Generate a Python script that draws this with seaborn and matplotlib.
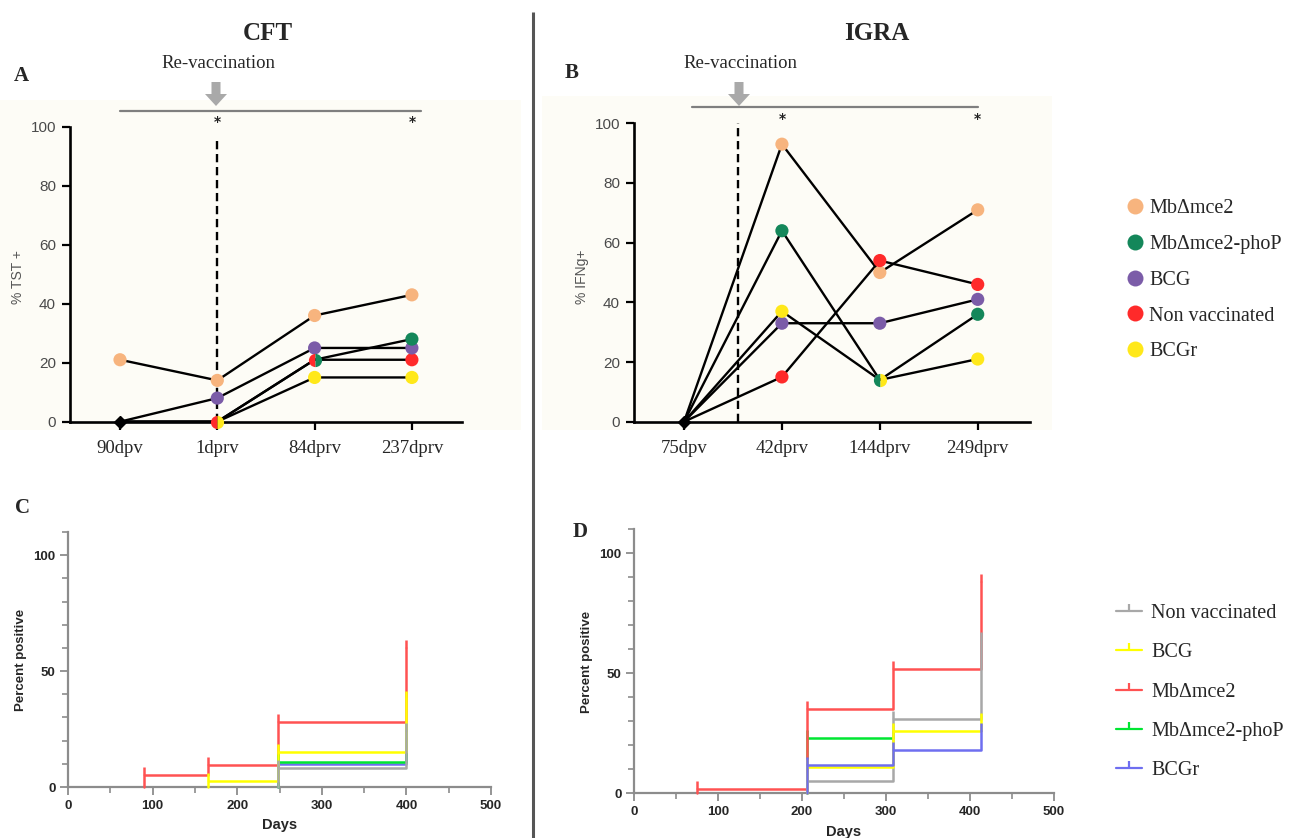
import numpy as np
import pandas as pd
import matplotlib
matplotlib.use("Agg")
import matplotlib.pyplot as plt
from matplotlib.lines import Line2D
from matplotlib.patches import Rectangle, FancyArrow
import seaborn as sns

# ---------------- data ----------------
groups_ab = ["MbΔmce2", "MbΔmce2-phoP", "BCG", "Non vaccinated", "BCGr"]
colors_ab = ["#F7B47E", "#14875A", "#7B5CA8", "#FF2A2A", "#FFE81A"]

cft_times = ["90dpv", "1dprv", "84dprv", "237dprv"]
cft_mbmce2 = [21, 14, 36, 43]
cft_phop = [0, 0, 21, 28]
cft_bcg = [0, 8, 25, 25]
cft_nonvac = [0, 0, 21, 21]
cft_bcgr = [0, 0, 15, 15]
cft_signif = ["1dprv", "237dprv"]
cft_revacc = 1.0

igra_times = ["75dpv", "42dprv", "144dprv", "249dprv"]
igra_mbmce2 = [0, 93, 50, 71]
igra_phop = [0, 64, 14, 36]
igra_bcg = [0, 33, 33, 41]
igra_nonvac = [0, 15, 54, 46]
igra_bcgr = [0, 37, 14, 21]
igra_signif = ["42dprv", "249dprv"]
igra_revacc = 0.55

groups_cd = ["Non vaccinated", "BCG", "MbΔmce2", "MbΔmce2-phoP", "BCGr"]
colors_cd = ["#A8A8A8", "#FFFF00", "#FF5252", "#00E632", "#6E6EF0"]

# panel C (CFT cumulative percent positive)
c_nonvac_days = [248, 248, 400]; c_nonvac_pct = [0, 8, 24]
c_bcg_days = [165, 165, 248, 400]; c_bcg_pct = [0, 2.5, 15, 38]
c_mb_days = [90, 90, 165, 248, 400]; c_mb_pct = [0, 5, 9.5, 28, 60]
c_phop_days = [248, 248, 400]; c_phop_pct = [0, 11, 24]
c_bcgr_days = [248, 248, 400]; c_bcgr_pct = [0, 10, 18]

# panel D (IGRA cumulative percent positive)
d_nonvac_days = [206, 206, 308, 413]; d_nonvac_pct = [0, 5, 31, 64]
d_bcg_days = [206, 206, 308, 413]; d_bcg_pct = [0, 11, 26, 30]
d_mb_days = [75, 75, 206, 308, 413]; d_mb_pct = [0, 2, 35, 52, 88]
d_phop_days = [206, 206, 308]; d_phop_pct = [0, 23, 23]
d_bcgr_days = [206, 206, 308, 413]; d_bcgr_pct = [0, 12, 18, 26]

# ---------------- figure ----------------
sns.set_style("ticks")
plt.rcParams["font.family"] = ["DejaVu Sans"]
SERIF = "Liberation Serif"
SANS = "Liberation Sans"

W, H = 1293, 838
fig = plt.figure(figsize=(W / 100, H / 100), dpi=100, facecolor="white")

def px_axes(left, top, right, bottom, **kw):
    return fig.add_axes([left / W, 1 - bottom / H, (right - left) / W, (bottom - top) / H], **kw)

def ftext(x, y, s, **kw):
    fig.text(x / W, 1 - y / H, s, **kw)

# background decorations
bg = fig.add_axes([0, 0, 1, 1], zorder=-10)
bg.set_xlim(0, W); bg.set_ylim(H, 0); bg.axis("off")
bg.add_patch(Rectangle((0, 100), 521, 330, color="#FDFCF6", lw=0))
bg.add_patch(Rectangle((542, 96), 510, 334, color="#FDFCF6", lw=0))
bg.plot([533, 533], [12, 838], color="#555555", lw=2.2, solid_capstyle="butt")
for ax_x, ly, lx0, lx1 in [(216, 111, 120, 421), (739, 107, 692, 978)]:
    bg.add_patch(FancyArrow(ax_x, 82, 0, 24, width=9, head_width=22, head_length=12,
                            length_includes_head=True, color="#A9A9A9", lw=0))
    bg.plot([lx0, lx1], [ly, ly], color="#7F7F7F", lw=1.6)

ftext(268, 33, "CFT", ha="center", va="center", family=SERIF, fontsize=18, weight="bold")
ftext(877, 33, "IGRA", ha="center", va="center", family=SERIF, fontsize=18, weight="bold")
ftext(218, 63, "Re-vaccination", ha="center", va="center", family=SERIF, fontsize=13.5)
ftext(740, 63, "Re-vaccination", ha="center", va="center", family=SERIF, fontsize=13.5)
ftext(21, 76, "A", ha="center", va="center", family=SERIF, fontsize=15, weight="bold")
ftext(572, 73, "B", ha="center", va="center", family=SERIF, fontsize=15, weight="bold")
ftext(22, 508, "C", ha="center", va="center", family=SERIF, fontsize=15, weight="bold")
ftext(580, 532, "D", ha="center", va="center", family=SERIF, fontsize=15, weight="bold")


def line_panel(ax, times, series, signif, revacc, revacc_top):
    n = len(times)
    rows = []
    for g, vals in zip(groups_ab, series):
        for i, v in enumerate(vals):
            rows.append({"t": i, "pct": v, "group": g})
    df = pd.DataFrame(rows)
    sns.lineplot(data=df, x="t", y="pct", units="group", estimator=None, sort=False,
                 color="black", lw=1.7, ax=ax, legend=False, zorder=3)
    # markers: handle coincident points
    prio = ["Non vaccinated", "MbΔmce2-phoP", "BCGr", "BCG", "MbΔmce2"]
    cmap = dict(zip(groups_ab, colors_ab))
    single = []
    for (t, v), grp in df.groupby(["t", "pct"]):
        names = list(grp["group"])
        if len(names) >= 4:
            ax.plot([t], [v], marker="D", ms=6, color="black", clip_on=False, zorder=6)
        elif len(names) >= 2:
            names = sorted(names, key=prio.index)
            ax.plot([t], [v], marker="o", ms=9.5, fillstyle="left", markerfacecolor=cmap[names[0]],
                    markerfacecoloralt=cmap[names[-1]], markeredgewidth=0, clip_on=False, zorder=6)
        else:
            single.append(grp)
    sdf = pd.concat(single)
    sns.scatterplot(data=sdf, x="t", y="pct", hue="group", palette=cmap, s=90, edgecolor="none",
                    legend=False, ax=ax, zorder=5, clip_on=False)
    ax.axvline(revacc, ymin=0, ymax=revacc_top, color="black", ls=(0, (3.5, 2)), lw=1.7, zorder=2)
    for s in signif:
        ax.text(times.index(s), 101.5, "*", ha="center", va="center", fontsize=10,
                family="DejaVu Sans", weight="bold", color="#222222", clip_on=False)
    ax.set_facecolor("none")
    ax.set_ylim(0, 100)
    ax.set_yticks(range(0, 101, 20))
    ax.set_xticks(range(n))
    ax.set_xticklabels(times, family=SERIF, fontsize=13.5)
    ax.set_yticklabels([str(v) for v in range(0, 101, 20)], family=SANS, fontsize=11, color="#4A4A4A")
    ax.tick_params(axis="both", direction="out", length=6, width=1.6, color="black", pad=4)
    ax.tick_params(axis="x", pad=7)
    for sp in ["top", "right"]:
        ax.spines[sp].set_visible(False)
    for sp in ["left", "bottom"]:
        ax.spines[sp].set_linewidth(1.9)
        ax.spines[sp].set_color("black")
    ax.set_xlabel(""); ax.set_ylabel("")


axA = px_axes(70, 126.7, 462, 421.7)
axA.set_xlim(-0.514, 3.515)
line_panel(axA, cft_times, [cft_mbmce2, cft_phop, cft_bcg, cft_nonvac, cft_bcgr],
           cft_signif, cft_revacc, 0.96)
ftext(18, 277, "% TST +", rotation=90, ha="center", va="center", family=SANS, fontsize=10, color="#555555")

axB = px_axes(634, 123.3, 1030, 421.7)
axB.set_xlim(-0.511, 3.534)
line_panel(axB, igra_times, [igra_mbmce2, igra_phop, igra_bcg, igra_nonvac, igra_bcgr],
           igra_signif, igra_revacc, 1.0)
ftext(582, 277, "% IFNg+", rotation=90, ha="center", va="center", family=SANS, fontsize=10, color="#555555")

# legend for A/B
handles_ab = [Line2D([], [], ls="none", marker="o", ms=11.5, color=c, markeredgewidth=0) for c in colors_ab]
fig.legend(handles_ab, groups_ab, loc="upper left", bbox_to_anchor=(1126 / W, 1 - 199 / H),
           frameon=False, prop={"family": SERIF, "size": 14.5}, labelspacing=0.83,
           handletextpad=0.25, handlelength=0.9, borderaxespad=0, borderpad=0)


def step_panel(ax, series, order):
    for rank, idx in enumerate(order):
        g, c, (days, pct) = groups_cd[idx], colors_cd[idx], series[idx]
        d = pd.DataFrame({"days": days, "pct": pct})
        sns.lineplot(data=d, x="days", y="pct", estimator=None, sort=False, drawstyle="steps-post",
                     color=c, lw=1.8, ax=ax, legend=False, marker=2, markevery=list(range(1, len(days))),
                     ms=6, mew=1.8, markeredgecolor=c, clip_on=False, zorder=3 + rank)
    ax.set_facecolor("none")
    ax.set_xlim(0, 500); ax.set_ylim(0, 110)
    ax.set_xticks(range(0, 501, 100))
    ax.set_xticks(range(50, 500, 100), minor=True)
    ax.set_yticks([0, 50, 100])
    ax.set_yticks(range(10, 111, 10), minor=True)
    ax.set_xticklabels([str(v) for v in range(0, 501, 100)], family=SANS, weight="bold", fontsize=9.5)
    ax.set_yticklabels(["0", "50", "100"], family=SANS, weight="bold", fontsize=9.5)
    ax.tick_params(which="major", direction="out", length=6, width=1.3, color="#8C8C8C", pad=3)
    ax.tick_params(which="minor", direction="out", length=4, width=1.2, color="#8C8C8C")
    for sp in ["top", "right"]:
        ax.spines[sp].set_visible(False)
    for sp in ["left", "bottom"]:
        ax.spines[sp].set_linewidth(1.6)
        ax.spines[sp].set_color("#8C8C8C")
    ax.set_xlabel(""); ax.set_ylabel("")


axC = px_axes(68, 532, 491, 787)
step_panel(axC, [(c_nonvac_days, c_nonvac_pct), (c_bcg_days, c_bcg_pct), (c_mb_days, c_mb_pct),
                 (c_phop_days, c_phop_pct), (c_bcgr_days, c_bcgr_pct)], order=[2, 4, 3, 1, 0])
ftext(21, 660, "Percent positive", rotation=90, ha="center", va="center", family=SANS, weight="bold", fontsize=9.5)
ftext(280, 825, "Days", ha="center", va="center", family=SANS, weight="bold", fontsize=10.5)

axD = px_axes(634, 529.3, 1054, 793.3)
step_panel(axD, [(d_nonvac_days, d_nonvac_pct), (d_bcg_days, d_bcg_pct), (d_mb_days, d_mb_pct),
                 (d_phop_days, d_phop_pct), (d_bcgr_days, d_bcgr_pct)], order=[3, 2, 0, 1, 4])
ftext(587, 662, "Percent positive", rotation=90, ha="center", va="center", family=SANS, weight="bold", fontsize=9.5)
ftext(844, 832, "Days", ha="center", va="center", family=SANS, weight="bold", fontsize=10.5)

handles_cd = [Line2D([0, 1], [0, 0], color=c, lw=1.6, marker=2, ms=5, mew=1.6) for c in colors_cd]
fig.legend(handles_cd, groups_cd, loc="upper left", bbox_to_anchor=(1116 / W, 1 - 604 / H),
           frameon=False, prop={"family": SERIF, "size": 14.5}, labelspacing=1.0,
           handletextpad=0.45, handlelength=1.3, borderaxespad=0, borderpad=0, numpoints=1)

fig.savefig("out.png", dpi=100, facecolor="white")
